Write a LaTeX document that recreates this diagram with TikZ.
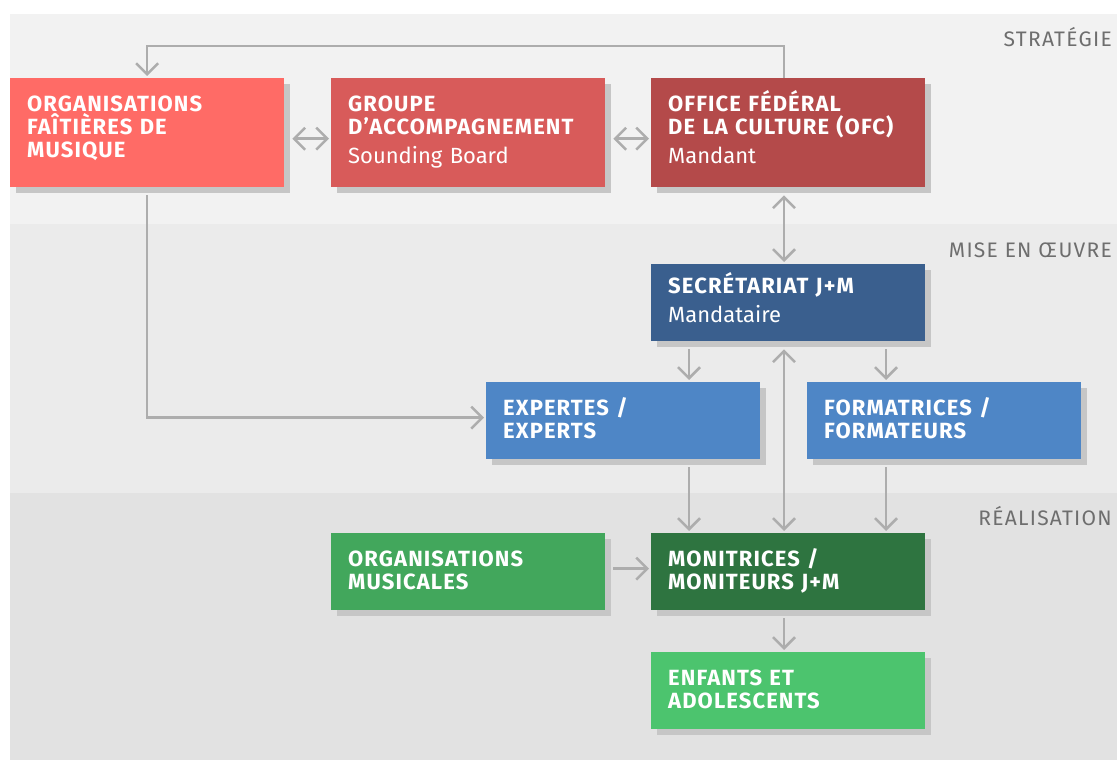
\documentclass[tikz,border=0pt]{standalone}
\usepackage{fontspec}
\setmainfont{Fira Sans}
\newfontfamily\titlefont[LetterSpace=5]{Fira Sans}
\newfontfamily\tierfont[LetterSpace=6]{Fira Sans}
\usetikzlibrary{arrows.meta,shadows}
\definecolor{bandA}{HTML}{F2F2F2}
\definecolor{bandB}{HTML}{EBEBEB}
\definecolor{bandC}{HTML}{E2E2E2}
\definecolor{shadowgray}{HTML}{C6C6C6}
\definecolor{linkgray}{HTML}{ADADAD}
\definecolor{tiergray}{HTML}{6E6E6E}
\definecolor{faitierered}{HTML}{FF6B66}
\definecolor{grouped}{HTML}{D85B5A}
\definecolor{ofcred}{HTML}{B44A4A}
\definecolor{secrblue}{HTML}{3A5F8E}
\definecolor{expertblue}{HTML}{4E86C6}
\definecolor{orgmusgreen}{HTML}{42A75C}
\definecolor{monigreen}{HTML}{2E7440}
\definecolor{enfantgreen}{HTML}{4CC46E}

\begin{document}
\begin{tikzpicture}[x=1pt,y=-1pt,>={Straight Barb[length=11pt,width=22pt]},
  box/.style={fill=#1,text=white,anchor=north west,minimum width=274pt,text width=240pt,inner xsep=17pt,inner ysep=0pt,align=left,text height=15pt,font=\fontsize{22}{23}\selectfont\titlefont\bfseries,drop shadow={shadow xshift=6pt,shadow yshift=-6pt,fill=shadowgray,opacity=1}},
  tall/.style={box=#1,minimum height=109pt,text depth=58pt},
  flat/.style={box=#1,minimum height=77pt,text depth=26pt},
  link/.style={draw=linkgray,line width=2.5pt,shorten <=8pt,shorten >=2pt,->},
  tier/.style={anchor=base east,inner sep=0pt,text=tiergray,font=\fontsize{21}{24}\selectfont\tierfont}]
  \useasboundingbox (0,0) rectangle (1117,760);
  \fill[bandA] (10,14) rectangle (1117,224);
  \fill[bandB] (10,224) rectangle (1117,493);
  \fill[bandC] (10,493) rectangle (1117,760);
  \node[tier] (strat) at (1112,47) {STRATÉGIE};
  \node[tier] (mise) at (1112,257) {MISE EN ŒUVRE};
  \node[tier] (real) at (1112,525) {RÉALISATION};

  \node[tall=faitierered] (faitiere) at (10,78) {ORGANISATIONS\\FAÎTIÈRES DE\\MUSIQUE};
  \node[tall=grouped] (groupe) at (331,78) {GROUPE\\D’ACCOMPAGNEMENT\\[6pt]{\normalfont Sounding Board}};
  \node[tall=ofcred] (ofc) at (651,78) {OFFICE FÉDÉRAL\\DE LA CULTURE (OFC)\\[6pt]{\normalfont Mandant}};
  \node[flat=secrblue,text depth=34pt] (secr) at (651,264) {SECRÉTARIAT J+M\\[6pt]{\normalfont Mandataire}};
  \node[flat=expertblue] (experts) at (486,382) {EXPERTES /\\EXPERTS};
  \node[flat=expertblue] (formateurs) at (807,382) {FORMATRICES /\\FORMATEURS};
  \node[flat=orgmusgreen] (orgmus) at (331,533) {ORGANISATIONS\\MUSICALES};
  \node[flat=monigreen] (moni) at (651,533) {MONITRICES /\\MONITEURS J+M};
  \node[flat=enfantgreen] (enfants) at (651,652) {ENFANTS ET\\ADOLESCENTS};

  \coordinate (colL) at (689,0);
  \coordinate (colM) at (784,0);
  \coordinate (colR) at (886,0);

  \draw[link,shorten <=0pt] (colM |- ofc.north) -- ++(0,-32) -| (faitiere.north);
  \draw[link,<->] ([yshift=-6pt]faitiere.east) -- ([yshift=-6pt]groupe.west);
  \draw[link,<->] ([yshift=-6pt]groupe.east) -- ([yshift=-6pt]ofc.west);
  \draw[link,<->] (colM |- ofc.south) -- (colM |- secr.north);
  \draw[link] (colL |- secr.south) -- (colL |- experts.north);
  \draw[link] (colR |- secr.south) -- (colR |- formateurs.north);
  \draw[link,<->] (colM |- secr.south) -- (colM |- moni.north);
  \draw[link] (faitiere.south) |- ([yshift=3pt]experts.west);
  \draw[link] (colL |- experts.south) -- (colL |- moni.north);
  \draw[link] (colR |- formateurs.south) -- (colR |- moni.north);
  \draw[link] ([yshift=3pt]orgmus.east) -- ([yshift=3pt]moni.west);
  \draw[link] (colM |- moni.south) -- (colM |- enfants.north);
\end{tikzpicture}
\end{document}
